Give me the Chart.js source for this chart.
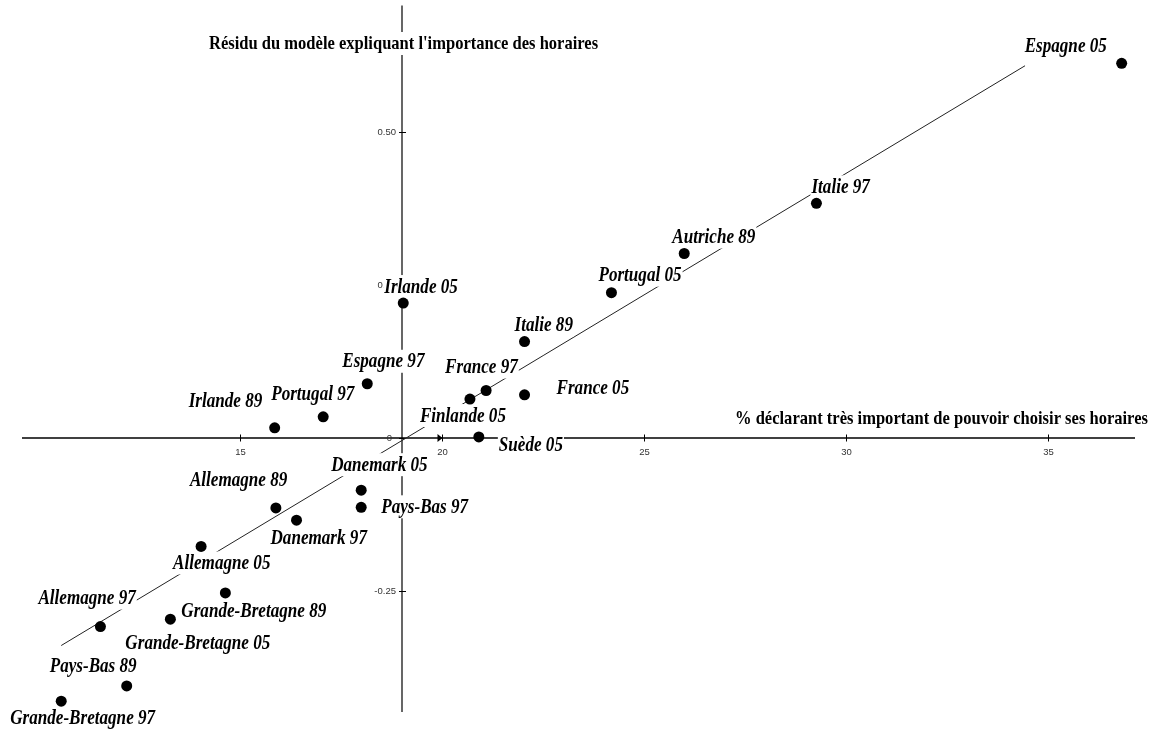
<!DOCTYPE html>
<html lang="fr">
<head>
<meta charset="utf-8">
<title>Résidu du modèle expliquant l'importance des horaires</title>
<script src="https://cdn.jsdelivr.net/npm/chart.js@4.4.1/dist/chart.umd.min.js"></script>
<style>
    html, body { margin: 0; padding: 0; background: #fff; }
    #wrap { width: 1155px; height: 734px; }
</style>
</head>
<body>
<div id="wrap"><canvas id="residuChart" width="1155" height="734"></canvas></div>
<script>
// pays / année
const countries = [
    'Espagne 05', 'Italie 97', 'Autriche 89', 'Portugal 05', 'Irlande 05',
    'Italie 89', 'Espagne 97', 'France 97', 'Finlande 05', 'France 05',
    'Suède 05', 'Portugal 97', 'Irlande 89', 'Danemark 05', 'Pays-Bas 97',
    'Allemagne 89', 'Danemark 97', 'Allemagne 05', 'Grande-Bretagne 89',
    'Grande-Bretagne 05', 'Allemagne 97', 'Pays-Bas 89', 'Grande-Bretagne 97'
];
// % déclarant très important de pouvoir choisir ses horaires
const pctImportant = [
    36.82, 29.27, 26.00, 24.20, 19.05,
    22.05, 18.16, 21.10, 20.70, 22.05,
    20.92, 17.07, 15.87, 18.01, 18.01,
    15.90, 16.41, 14.05, 14.65,
    13.29, 11.56, 12.21, 10.59
];
// résidu du modèle
const residus = [
    0.613, 0.384, 0.302, 0.238, 0.221,
    0.158, 0.089, 0.078, 0.064, 0.071,
    0.002, 0.035, 0.017, -0.085, -0.113,
    -0.114, -0.134, -0.177, -0.253,
    -0.296, -0.308, -0.405, -0.430
];
// droite d'ajustement
const fitX = [10.59, 34.43];
const fitY = [-0.339, 0.609];

const xTicks = [15, 20, 25, 30, 35];
const yTicks = [0.5, 0.25, 0, -0.25];
const yTickLabels = ['0.50', '0.25', '0', '-0.25'];
const xMin = 9.62, xMax = 37.15;
const yMin = -0.4477, yMax = 0.7075;
const axisCrossX = 19.02; // l'axe vertical passe ici
const axisCrossY = 0;

const yTitle = "Résidu du modèle expliquant l'importance des horaires";
const xTitle = '% déclarant très important de pouvoir choisir ses horaires';

// décalage des étiquettes par rapport au point (px)
const labelOffsets = [
    [-97, -17], [-5, -16], [-12, -16], [-13, -17], [-19, -16],
    [-10, -16], [-25, -22], [-41, -23], [-50, 17], [32, -6],
    [20, 8], [-52, -22], [-86, -26], [-30, -25], [20, 0],
    [-86, -28], [-26, 18], [-28, 17], [-44, 18],
    [-45, 24], [-62, -28], [-77, -20], [-51, 17]
];

// police serif un peu tassée horizontalement, comme l'original
const labelFont = 'bold italic 20px "Liberation Serif", "Times New Roman", serif';
const titleFont = 'bold 19px "Liberation Serif", "Times New Roman", serif';
const tickFont = '9.5px "Liberation Sans", Arial, sans-serif';
const labelSqueeze = 0.855;
const titleSqueeze = 0.87;

function boxedText(ctx, txt, lx, ly, squeeze) {
    const w = ctx.measureText(txt).width * squeeze;
    ctx.fillStyle = '#fff';
    ctx.fillRect(lx - 1, ly - 12, w + 2, 23);
    ctx.save();
    ctx.translate(lx, ly + 0.5);
    ctx.scale(squeeze, 1);
    ctx.fillStyle = '#000';
    ctx.fillText(txt, 0, 0);
    ctx.restore();
}

const axesPlugin = {
    id: 'axesPlugin',
    beforeDatasetsDraw(chart) {
        const { ctx, chartArea, scales: { x, y } } = chart;
        const x0 = Math.round(x.getPixelForValue(axisCrossX));
        const y0 = Math.round(y.getPixelForValue(axisCrossY));
        ctx.save();
        ctx.strokeStyle = '#000';
        ctx.lineWidth = 1.6;
        ctx.beginPath();
        ctx.moveTo(chartArea.left, y0);
        ctx.lineTo(chartArea.right, y0);
        ctx.stroke();
        ctx.lineWidth = 1.2;
        ctx.beginPath();
        ctx.moveTo(x0, chartArea.top);
        ctx.lineTo(x0, chartArea.bottom);
        ctx.stroke();

        ctx.font = tickFont;
        ctx.fillStyle = '#333';
        ctx.lineWidth = 1;
        ctx.textAlign = 'center';
        ctx.textBaseline = 'middle';
        xTicks.forEach(t => {
            const px = Math.round(x.getPixelForValue(t)) + 0.5;
            ctx.beginPath();
            ctx.moveTo(px, y0 - 3.5);
            ctx.lineTo(px, y0 + 3.5);
            ctx.stroke();
            ctx.fillText(String(t), px, y0 + 14);
            if (t === 20) {
                ctx.beginPath();
                ctx.moveTo(px - 5, y0 - 4);
                ctx.lineTo(px - 5, y0 + 4);
                ctx.lineTo(px, y0);
                ctx.closePath();
                ctx.fillStyle = '#000';
                ctx.fill();
                ctx.fillStyle = '#333';
            }
        });
        ctx.textAlign = 'right';
        yTicks.forEach((t, i) => {
            const py = Math.round(y.getPixelForValue(t)) + 0.5;
            ctx.beginPath();
            ctx.moveTo(x0 - 3, py);
            ctx.lineTo(x0 + 4, py);
            ctx.stroke();
            ctx.fillText(yTickLabels[i], x0 - (t === 0 ? 10 : 6), py);
        });
        ctx.restore();
    },
    afterDatasetDraw(chart, args) {
        // étiquettes après la droite, avant les points
        if (args.index !== 1) return;
        const { ctx, scales: { x, y } } = chart;
        ctx.save();
        ctx.textAlign = 'left';
        ctx.textBaseline = 'middle';

        ctx.font = titleFont;
        boxedText(ctx, yTitle, 209, 44, titleSqueeze);
        boxedText(ctx, xTitle, 735, 419, titleSqueeze);

        ctx.font = labelFont;
        countries.forEach((name, i) => {
            const px = x.getPixelForValue(pctImportant[i]);
            const py = y.getPixelForValue(residus[i]);
            boxedText(ctx, name, px + labelOffsets[i][0], py + labelOffsets[i][1], labelSqueeze);
        });
        ctx.restore();
    }
};

function drawChart() {
    const ctx = document.getElementById('residuChart').getContext('2d');
    new Chart(ctx, {
        type: 'scatter',
        data: {
            datasets: [{
                label: 'Pays',
                data: countries.map((c, i) => ({ x: pctImportant[i], y: residus[i] })),
                backgroundColor: '#000',
                borderColor: '#000',
                pointRadius: 5.5,
                pointBorderWidth: 0,
                clip: false
            }, {
                type: 'line',
                label: 'Ajustement',
                data: fitX.map((v, i) => ({ x: v, y: fitY[i] })),
                borderColor: '#222',
                borderWidth: 1,
                pointRadius: 0,
                fill: false
            }]
        },
        options: {
            responsive: false,
            animation: false,
            devicePixelRatio: 1,
            layout: { padding: { left: 22, right: 20, top: 5, bottom: 22 } },
            scales: {
                x: { type: 'linear', min: xMin, max: xMax, display: false },
                y: { type: 'linear', min: yMin, max: yMax, display: false }
            },
            plugins: {
                legend: { display: false },
                tooltip: { enabled: false }
            }
        },
        plugins: [axesPlugin]
    });
}

document.addEventListener('DOMContentLoaded', drawChart);
</script>
</body>
</html>
